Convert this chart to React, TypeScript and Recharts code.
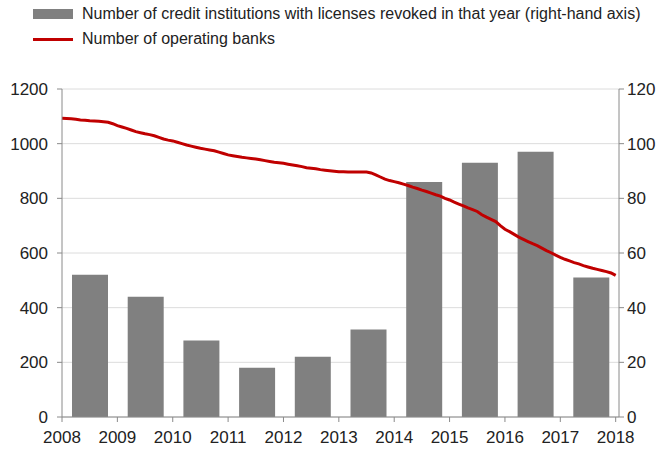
import { ComposedChart, Bar, Line, XAxis, YAxis, CartesianGrid } from "recharts";

// licences revoked per year (right-hand axis)
const revokedYears = ["2008", "2009", "2010", "2011", "2012", "2013", "2014", "2015", "2016", "2017"];
const revokedCounts = [52, 44, 28, 18, 22, 32, 86, 93, 97, 51];

// operating banks, monthly, Jan..Dec of each year
const bankYears = [2008, 2009, 2010, 2011, 2012, 2013, 2014, 2015, 2016, 2017];
const banks2008 = [1093, 1092, 1091, 1089, 1087, 1086, 1084, 1083, 1082, 1080, 1078, 1073];
const banks2009 = [1066, 1061, 1056, 1050, 1044, 1040, 1036, 1033, 1029, 1023, 1017, 1013];
const banks2010 = [1010, 1005, 1000, 995, 991, 987, 983, 980, 977, 974, 969, 964];
const banks2011 = [959, 956, 953, 950, 948, 946, 944, 941, 938, 935, 932, 930];
const banks2012 = [928, 925, 922, 919, 916, 912, 910, 908, 905, 903, 901, 899];
const banks2013 = [897, 897, 896, 896, 896, 896, 896, 893, 886, 878, 870, 865];
const banks2014 = [861, 857, 852, 847, 841, 836, 830, 825, 819, 813, 808, 800];
const banks2015 = [794, 786, 779, 772, 765, 759, 752, 740, 731, 723, 715, 700];
const banks2016 = [687, 678, 668, 658, 650, 642, 634, 627, 618, 609, 601, 592];
const banks2017 = [584, 577, 571, 565, 560, 554, 549, 544, 540, 536, 532, 527];
const banksJan2018 = 518;

const xTicks = [2008, 2009, 2010, 2011, 2012, 2013, 2014, 2015, 2016, 2017, 2018];
const leftTicks = [0, 200, 400, 600, 800, 1000, 1200];
const rightTicks = [0, 20, 40, 60, 80, 100, 120];

const barData = revokedYears.map((y, i) => ({ year: y, revoked: revokedCounts[i] }));

const monthly = [banks2008, banks2009, banks2010, banks2011, banks2012, banks2013, banks2014, banks2015, banks2016, banks2017];
const lineData: { t: number; banks: number }[] = [];
monthly.forEach((vals, i) => {
  vals.forEach((v, m) => lineData.push({ t: bankYears[i] + m / 12, banks: v }));
});
lineData.push({ t: 2018, banks: banksJan2018 });

const font = "'Liberation Sans', Arial, sans-serif";
const axisColor = "#8a8a8a";
const tickStyle = { fontSize: 17, fill: "#222", fontFamily: font };

export default function App() {
  return (
    <div style={{ position: "absolute", left: 0, top: 0, width: 669, height: 450, background: "#fff", fontFamily: font }}>
      {/* legend */}
      <div style={{ position: "absolute", left: 33, top: 9, width: 40, height: 10, background: "#808080" }} />
      <div style={{ position: "absolute", left: 82, top: 5, fontSize: 16, color: "#222", whiteSpace: "nowrap" }}>
        Number of credit institutions with licenses revoked in that year (right-hand axis)
      </div>
      <div style={{ position: "absolute", left: 33, top: 38, width: 40, height: 3, background: "#c00000" }} />
      <div style={{ position: "absolute", left: 82, top: 30, fontSize: 16, color: "#222", whiteSpace: "nowrap" }}>
        Number of operating banks
      </div>

      <ComposedChart width={669} height={450} data={barData} margin={{ top: 89, right: 0, bottom: 0, left: 0 }}>
        <CartesianGrid vertical={false} stroke="#dcdcdc" xAxisId="time" yAxisId="left" />
        <XAxis
          xAxisId="time"
          dataKey="t"
          type="number"
          domain={[2008, 2018.06]}
          ticks={xTicks}
          interval={0}
          height={33}
          stroke={axisColor}
          tickSize={5}
          tickMargin={9}
          tick={tickStyle}
        />
        <XAxis xAxisId="bars" dataKey="year" type="category" hide height={0} />
        <YAxis
          yAxisId="left"
          domain={[0, 1200]}
          ticks={leftTicks}
          interval={0}
          width={62}
          stroke={axisColor}
          tickSize={5}
          tickMargin={9}
          tick={tickStyle}
        />
        <YAxis
          yAxisId="right"
          orientation="right"
          domain={[0, 120]}
          ticks={rightTicks}
          interval={0}
          width={50}
          stroke={axisColor}
          tickSize={5}
          tickMargin={3}
          tick={tickStyle}
        />
        <Bar xAxisId="bars" yAxisId="right" dataKey="revoked" fill="#808080" barSize={36} isAnimationActive={false} />
        <Line
          xAxisId="time"
          yAxisId="left"
          data={lineData}
          dataKey="banks"
          type="linear"
          stroke="#c00000"
          strokeWidth={3}
          dot={false}
          activeDot={false}
          isAnimationActive={false}
        />
      </ComposedChart>
    </div>
  );
}
